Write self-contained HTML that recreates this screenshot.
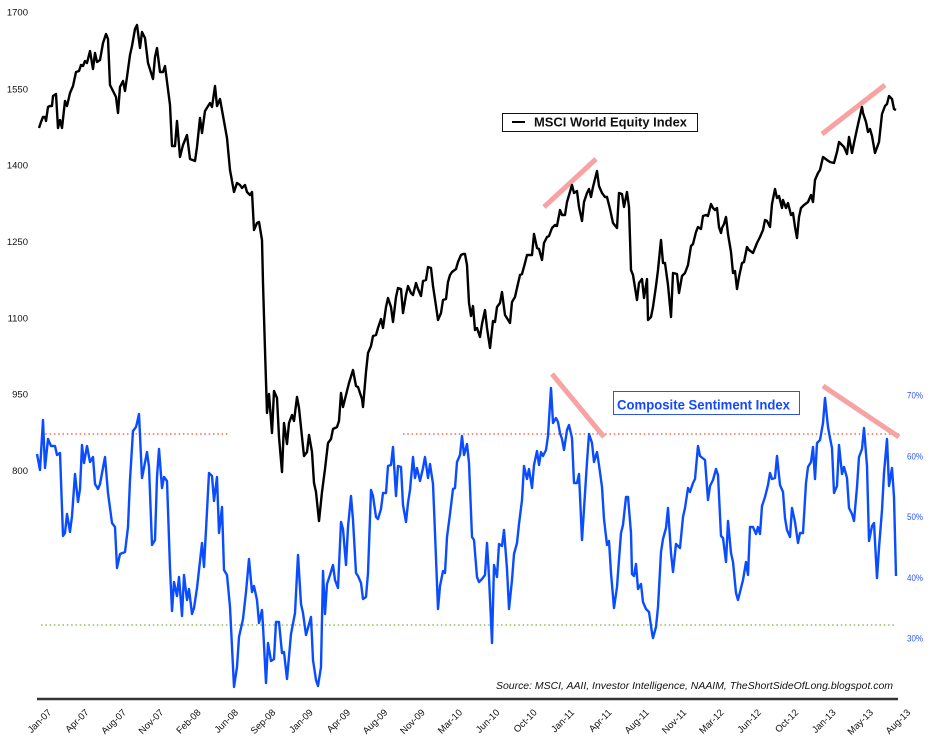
<!DOCTYPE html>
<html><head><meta charset="utf-8"><style>
html,body{margin:0;padding:0;background:#fff;}
svg{display:block;}
</style></head><body>
<svg width="931" height="746" viewBox="0 0 931 746" xmlns="http://www.w3.org/2000/svg">
<rect width="931" height="746" fill="#fff"/>
<g font-family="'Liberation Sans', sans-serif" font-size="9.5" fill="#111" text-anchor="end">
<text x="28" y="15.7">1700</text>
<text x="28" y="92.7">1550</text>
<text x="28" y="168.5">1400</text>
<text x="28" y="245">1250</text>
<text x="28" y="321.7">1100</text>
<text x="28" y="397.5">950</text>
<text x="28" y="474">800</text>
</g>
<g font-family="'Liberation Sans', sans-serif" font-size="9.5" fill="#2a56ff">
<text x="907" y="398.3" textLength="16" lengthAdjust="spacingAndGlyphs">70%</text>
<text x="907" y="459.3" textLength="16" lengthAdjust="spacingAndGlyphs">60%</text>
<text x="907" y="520" textLength="16" lengthAdjust="spacingAndGlyphs">50%</text>
<text x="907" y="581" textLength="16" lengthAdjust="spacingAndGlyphs">40%</text>
<text x="907" y="641.7" textLength="16" lengthAdjust="spacingAndGlyphs">30%</text>
</g>
<line x1="41" y1="434" x2="228" y2="434" stroke="#f26b4f" stroke-width="1.5" stroke-dasharray="1.5 2.8"/>
<line x1="403" y1="434" x2="900" y2="434" stroke="#f26b4f" stroke-width="1.5" stroke-dasharray="1.5 2.8"/>
<line x1="41" y1="625" x2="895" y2="625" stroke="#8cbf5a" stroke-width="1.5" stroke-dasharray="1.5 2.8"/>
<g stroke="#f7a3a3" stroke-width="5" fill="none">
<line x1="544" y1="207" x2="596" y2="159"/>
<line x1="822" y1="134" x2="885" y2="85"/>
<line x1="552" y1="374" x2="604" y2="437"/>
<line x1="823" y1="386" x2="899" y2="437"/>
</g>
<polyline fill="none" stroke="#0a4cff" stroke-width="2.4" stroke-linejoin="round" points="37,454 40,470 43,420 45,468 48,439 51,446 55,446 57,455 60,453 63,536 65,533 67,514 70,532 72,516 75,474 78,502 80,489 82,445 84,463 87,446 90,462 93,457 95,484 98,489 100,484 105,457 108,493 112,523 115,527 117,568 120,554 125,552 128,527 130,480 133,431 136,427 137,423 139,414 142,478 147,452 149,467 152,545 155,540 157,477 159,449 162,488 164,477 167,481 170,568 172,611 174,582 177,596 179,577 182,616 184,575 187,600 189,589 192,614 194,608 197,588 199,570 202,543 204,567 207,511 209,473 212,476 214,501 217,477 219,533 222,507 224,570 227,575 230,607 234,687 237,667 239,637 243,619 246,592 249,559 252,592 254,586 257,600 259,623 262,610 263,626 266,683 268,643 271,661 274,659 276,622 279,622 282,653 284,652 287,679 291,634 295,613 298,555 301,604 303,613 306,635 311,617 313,660 316,680 318,686 321,667 323,571 325,614 327,584 330,575 333,565 335,580 338,588 341,522 343,529 346,565 348,527 351,496 353,520 356,573 358,576 361,583 363,599 366,597 368,573 371,490 373,496 376,517 378,519 381,509 383,493 386,493 388,466 391,465 393,447 396,496 398,466 401,467 403,505 406,522 408,503 410,490 413,457 415,478 417,468 420,481 423,468 425,457 428,478 430,464 433,484 435,533 438,609 440,586 443,571 445,573 447,537 450,514 453,489 455,488 457,462 460,455 462,436 464,455 467,444 469,463 472,537 474,540 477,577 479,582 482,579 485,575 487,543 489,577 492,643 494,565 497,577 499,544 502,546 504,530 507,569 509,609 512,580 514,554 517,543 519,524 522,500 524,466 527,479 529,469 532,488 534,465 537,451 539,465 541,452 543,456 546,450 548,436 551,388 553,423 556,418 558,422 560,433 562,439 564,450 567,430 569,425 572,438 574,483 577,483 579,474 582,540 584,509 587,462 589,434 592,443 594,462 597,452 599,465 602,487 604,519 607,545 609,541 611,573 614,608 617,587 618,573 621,533 623,525 626,497 628,497 631,533 632,574 634,576 636,564 638,589 641,584 643,602 646,609 649,612 652,633 653,638 656,627 658,607 661,552 663,539 666,528 668,508 671,553 673,572 676,544 680,548 683,517 685,508 688,488 690,492 693,483 695,479 698,446 700,456 705,460 708,500 710,486 713,480 716,469 718,475 721,536 723,538 726,562 728,521 731,553 733,562 736,593 738,600 741,588 743,580 746,562 748,575 750,527 753,527 756,534 758,527 760,534 762,506 765,497 768,485 770,473 772,479 775,478 777,456 780,485 783,492 785,518 787,530 790,537 792,508 795,522 798,543 800,533 803,533 806,483 808,467 811,462 813,447 815,479 817,443 820,440 823,423 825,398 828,427 830,438 832,448 834,493 837,486 839,445 842,474 844,467 847,478 849,508 852,514 854,521 857,487 859,457 862,449 864,428 867,466 869,541 872,526 874,523 877,578 879,548 882,510 884,473 887,439 889,486 892,468 894,497 896,576"/>
<polyline fill="none" stroke="#000" stroke-width="2.4" stroke-linejoin="round" points="39,128 41,122 43,117 45,117 46,121 48,107 50,106 52,106 53,96 56,94 58,128 60,120 62,128 65,101 67,106 70,93 73,86 76,72 79,71 81,65 83,66 85,61 87,63 90,51 93,69 95,53 97,62 100,60 103,43 106,34 108,39 110,85 113,91 116,97 118,113 120,87 123,81 125,91 127,77 130,55 132,46 135,29 137,25 140,48 142,32 145,38 148,63 153,79 155,57 157,48 160,72 163,72 165,66 170,105 172,146 175,146 177,121 180,157 183,145 187,135 190,159 195,161 197,147 200,118 202,133 205,111 210,103 212,107 215,86 217,106 220,99 227,138 230,170 234,192 237,183 240,185 242,188 245,185 247,192 250,195 252,192 254,230 257,223 259,222 262,240 263,283 265,350 267,413 269,394 272,433 274,391 277,398 279,437 282,472 284,423 287,444 289,423 292,415 294,421 297,397 299,408 302,437 304,456 307,452 309,435 312,452 314,483 316,492 319,521 322,492 325,469 328,443 331,439 333,429 337,427 339,421 341,393 343,407 346,395 349,383 353,370 356,386 358,387 362,399 363,407 366,372 368,353 371,346 373,336 376,335 378,328 381,319 383,328 386,307 388,298 391,307 393,322 396,297 398,288 401,289 403,313 406,295 408,286 411,293 413,295 416,283 418,289 421,296 423,281 426,280 428,267 431,268 433,286 436,306 438,320 441,313 443,300 446,299 448,282 450,275 452,272 456,269 458,262 461,255 463,254 465,254 467,265 469,303 471,316 473,306 475,330 477,328 480,337 482,324 485,310 487,328 490,348 493,321 495,322 497,307 500,303 502,292 505,315 510,323 512,302 515,297 517,288 520,275 522,274 525,263 527,255 532,255 534,234 537,248 539,249 542,260 544,243 547,237 549,236 552,228 555,225 557,226 560,210 562,215 565,215 567,202 572,185 574,193 577,191 579,207 582,221 584,202 587,193 589,189 591,197 593,187 597,171 599,186 602,193 605,197 607,197 610,209 613,223 617,228 619,193 622,194 624,207 627,192 629,207 631,270 633,275 637,300 639,283 642,279 644,298 647,279 648,320 651,317 653,307 656,286 658,270 661,240 663,263 665,263 668,285 671,317 673,273 677,274 679,293 682,276 685,273 688,265 691,246 693,244 696,232 698,227 701,229 703,216 706,215 708,216 711,204 713,208 715,210 717,208 719,227 721,233 722,228 724,224 726,217 728,234 731,252 733,273 735,271 737,289 739,277 742,263 744,262 747,247 749,250 753,253 757,243 760,237 763,230 765,220 767,221 770,227 772,204 775,189 777,198 779,196 782,208 783,200 786,208 788,203 791,215 793,213 795,227 797,238 799,217 801,208 804,205 808,202 811,195 813,202 815,180 818,173 820,170 823,157 827,160 830,162 834,163 837,152 839,142 842,145 844,147 847,154 849,137 852,153 854,143 857,129 859,120 862,107 863,113 866,122 868,132 870,129 872,136 875,153 879,142 882,114 885,106 887,104 889,96 892,99 894,109 896,110"/>
<rect x="502.5" y="113.5" width="195" height="18" fill="#fff" stroke="#111" stroke-width="1"/>
<line x1="512" y1="122" x2="525" y2="122" stroke="#000" stroke-width="2"/>
<text x="534" y="126.7" font-family="'Liberation Sans', sans-serif" font-size="13" font-weight="bold" fill="#111" textLength="153" lengthAdjust="spacingAndGlyphs">MSCI World Equity Index</text>
<rect x="613.5" y="391.5" width="186" height="23" fill="#fff" stroke="#2a56ee" stroke-width="1"/>
<text x="617" y="409.5" font-family="'Liberation Sans', sans-serif" font-size="13.5" font-weight="bold" fill="#1448ff" textLength="173" lengthAdjust="spacingAndGlyphs">Composite Sentiment Index</text>
<text x="496" y="689" font-family="'Liberation Sans', sans-serif" font-size="10" font-style="italic" fill="#111" textLength="397" lengthAdjust="spacingAndGlyphs">Source: MSCI, AAII, Investor Intelligence, NAAIM, TheShortSideOfLong.blogspot.com</text>
<line x1="37" y1="699" x2="898" y2="699" stroke="#333" stroke-width="2.5"/>
<g font-family="'Liberation Sans', sans-serif" font-size="9.5" fill="#111" text-anchor="end">
<text transform="translate(52,713) rotate(-45)">Jan-07</text>
<text transform="translate(89.35,713) rotate(-45)">Apr-07</text>
<text transform="translate(126.7,713) rotate(-45)">Aug-07</text>
<text transform="translate(164.05,713) rotate(-45)">Nov-07</text>
<text transform="translate(201.4,713) rotate(-45)">Feb-08</text>
<text transform="translate(238.75,713) rotate(-45)">Jun-08</text>
<text transform="translate(276.1,713) rotate(-45)">Sep-08</text>
<text transform="translate(313.45,713) rotate(-45)">Jan-09</text>
<text transform="translate(350.8,713) rotate(-45)">Apr-09</text>
<text transform="translate(388.15,713) rotate(-45)">Aug-09</text>
<text transform="translate(425.5,713) rotate(-45)">Nov-09</text>
<text transform="translate(462.85,713) rotate(-45)">Mar-10</text>
<text transform="translate(500.2,713) rotate(-45)">Jun-10</text>
<text transform="translate(537.55,713) rotate(-45)">Oct-10</text>
<text transform="translate(574.9,713) rotate(-45)">Jan-11</text>
<text transform="translate(612.25,713) rotate(-45)">Apr-11</text>
<text transform="translate(649.6,713) rotate(-45)">Aug-11</text>
<text transform="translate(686.95,713) rotate(-45)">Nov-11</text>
<text transform="translate(724.3,713) rotate(-45)">Mar-12</text>
<text transform="translate(761.65,713) rotate(-45)">Jun-12</text>
<text transform="translate(799,713) rotate(-45)">Oct-12</text>
<text transform="translate(836.35,713) rotate(-45)">Jan-13</text>
<text transform="translate(873.7,713) rotate(-45)">May-13</text>
<text transform="translate(911.05,713) rotate(-45)">Aug-13</text>
</g>
</svg>
</body></html>
